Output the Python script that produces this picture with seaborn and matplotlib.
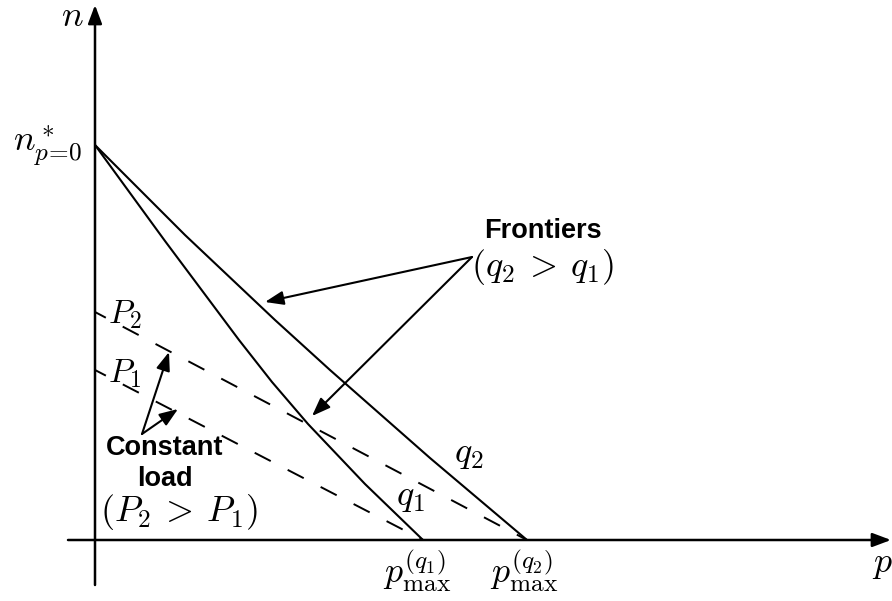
import matplotlib
matplotlib.use("Agg")
import matplotlib.pyplot as plt
import seaborn as sns
import pandas as pd

# ---- data (schematic coordinates: p along x, n along y) ----
q1_p = [0, 70, 144, 177, 213, 270, 328]
q1_n = [395, 299, 200, 158, 116, 56, 0]
q2_p = [0, 90, 180, 235, 335, 432]
q2_n = [395, 305, 220, 170, 82, 0]
P2_p = [0, 432]
P2_n = [228, 0]
P1_p = [0, 328]
P1_n = [170, 0]

sns.set_theme(style="white")
plt.rcParams["mathtext.fontset"] = "cm"
plt.rcParams["font.family"] = ["Liberation Sans", "DejaVu Sans"]
plt.rcParams["text.color"] = "black"

fig = plt.figure(figsize=(8.92, 6.01), dpi=100)
ax = fig.add_axes([0, 0, 1, 1])
ax.set_xlim(-95, 797)
ax.set_ylim(-61, 540)
ax.axis("off")

front = pd.concat([
    pd.DataFrame({"p": q1_p, "n": q1_n, "curve": "q1"}),
    pd.DataFrame({"p": q2_p, "n": q2_n, "curve": "q2"}),
])
sns.lineplot(data=front, x="p", y="n", units="curve", estimator=None, sort=False,
             color="black", lw=1.5, ax=ax)
load = pd.concat([
    pd.DataFrame({"p": P2_p, "n": P2_n, "curve": "P2"}),
    pd.DataFrame({"p": P1_p, "n": P1_n, "curve": "P1"}),
])
sns.lineplot(data=load, x="p", y="n", units="curve", estimator=None, sort=False,
             color="black", lw=1.4, dashes=False, ax=ax)
for ln in ax.lines[-2:]:
    ln.set_linestyle((3, (9.3, 9.8)))
for ln in ax.lines:
    ln.set_solid_capstyle("butt")
    ln.set_solid_joinstyle("round")

axis_kw = dict(arrowstyle="-|>,head_length=0.8,head_width=0.3", lw=1.8,
               color="black", mutation_scale=14, shrinkA=0, shrinkB=0)
ax.annotate("", xy=(0, 535), xytext=(0, -45), arrowprops=axis_kw)
ax.annotate("", xy=(796, 0), xytext=(-27, 0), arrowprops=axis_kw)

ptr_kw = dict(arrowstyle="-|>,head_length=0.8,head_width=0.3", lw=1.5,
              color="black", mutation_scale=14, shrinkA=0, shrinkB=0)
ax.annotate("", xy=(170, 238), xytext=(377, 283), arrowprops=ptr_kw)
ax.annotate("", xy=(217, 124), xytext=(377, 283), arrowprops=ptr_kw)
ax.annotate("", xy=(74, 188), xytext=(47, 106), arrowprops=ptr_kw)
ax.annotate("", xy=(83, 131), xytext=(47, 106), arrowprops=ptr_kw)

M = 26
B = 19.5
ax.text(-23, 514, r"$n$", fontsize=M, ha="center", va="baseline")
ax.text(-13, 388, r"$n^*_{p\!=\!0}$", fontsize=M, ha="right", va="baseline")
ax.text(13, 217, r"$P_2$", fontsize=M - 2, ha="left", va="baseline")
ax.text(13, 158, r"$P_1$", fontsize=M - 2, ha="left", va="baseline")
ax.text(448, 309, "Frontiers", fontsize=B, fontweight="bold", ha="center", va="center")
ax.text(448, 264, r"$(q_2\:>\:q_1)$", fontsize=M, ha="center", va="baseline")
ax.text(70, 92, "Constant", fontsize=B, fontweight="bold", ha="center", va="center")
ax.text(70, 61, "load", fontsize=B, fontweight="bold", ha="center", va="center")
ax.text(84, 19, r"$(P_2\:>\:P_1)$", fontsize=M, ha="center", va="baseline")
ax.text(374, 78, r"$q_2$", fontsize=M, ha="center", va="baseline")
ax.text(315, 35, r"$q_1$", fontsize=M, ha="center", va="baseline")
ax.text(322, -8, r"$p_{\max}^{(q_1)}$", fontsize=M, ha="center", va="top")
ax.text(429, -8, r"$p_{\max}^{(q_2)}$", fontsize=M, ha="center", va="top")
ax.text(787, -32, r"$p$", fontsize=M, ha="center", va="baseline")

fig.savefig("out.png", dpi=100)
